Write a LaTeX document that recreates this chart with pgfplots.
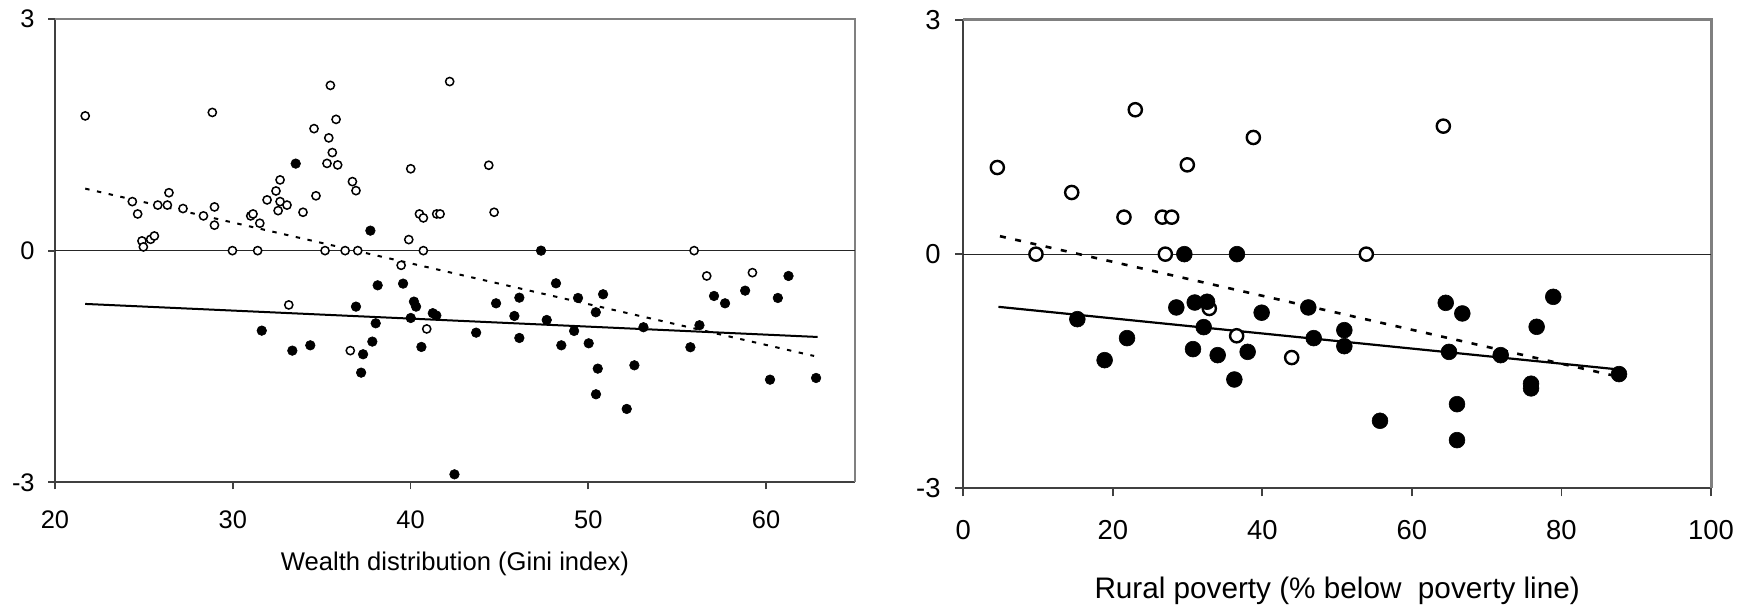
\documentclass[border=0pt]{standalone}
\usepackage{fontspec}
\setmainfont{Liberation Sans}
\usepackage{pgfplots}
\usepackage{pgfplotstable}
\pgfplotsset{compat=1.18}

% left panel: Gini index
\pgfplotstableread{
x y
21.7 1.745
28.85 1.79
24.35 0.635
24.65 0.475
24.89 0.126
24.97 0.048
25.38 0.147
25.59 0.19
25.78 0.59
26.32 0.59
26.41 0.75
27.2 0.545
28.35 0.45
28.97 0.566
28.97 0.33
29.98 0.0
31.01 0.45
31.14 0.475
31.52 0.355
31.4 0.0
31.93 0.657
32.43 0.773
32.66 0.916
32.66 0.635
32.55 0.518
33.05 0.59
33.15 -0.703
33.95 0.497
34.57 1.58
34.68 0.71
35.4 1.46
35.49 2.14
35.6 1.27
35.3 1.13
35.9 1.11
35.81 1.70
35.19 0.0
36.32 0.0
36.73 0.894
36.93 0.777
37.03 0.0
39.47 -0.19
39.9 0.143
40.01 1.06
40.5 0.475
40.72 0.424
40.72 0.0
41.47 0.475
41.66 0.475
42.2 2.19
44.4 1.106
44.7 0.497
55.95 0.0
56.66 -0.328
59.23 -0.285
36.61 -1.295
40.91 -1.014
}\giniopen

\pgfplotstableread{
x y
33.54 1.127
37.74 0.259
38.15 -0.449
39.58 -0.427
36.93 -0.725
40.19 -0.66
40.31 -0.725
41.25 -0.81
41.45 -0.84
40.01 -0.872
38.04 -0.941
37.85 -1.178
40.61 -1.247
37.33 -1.342
37.22 -1.58
34.36 -1.226
33.35 -1.295
31.63 -1.036
42.47 -2.897
43.69 -1.062
44.81 -0.682
45.84 -0.846
46.12 -0.609
46.12 -1.131
47.66 -0.898
48.18 -0.423
48.48 -1.226
49.2 -1.04
49.42 -0.613
50.02 -1.2
50.42 -0.798
50.43 -1.86
50.53 -1.528
50.83 -0.565
52.16 -2.05
52.59 -1.485
53.1 -0.992
55.74 -1.251
56.25 -0.966
57.07 -0.587
57.69 -0.682
58.82 -0.518
60.22 -1.671
60.66 -0.613
61.26 -0.328
62.81 -1.649
47.34 0.0
}\ginifilled

% right panel: rural poverty
\pgfplotstableread{
x y
4.55 1.11
9.72 0.0
14.5 0.79
21.49 0.474
23.0 1.85
26.62 0.474
27.87 0.474
27.02 0.0
29.96 1.144
38.79 1.495
32.9 -0.696
64.2 1.64
53.9 0.0
36.56 -1.046
43.92 -1.325
}\povopen

\pgfplotstableread{
x y
29.56 0
36.6 0
28.49 -0.683
30.95 -0.62
32.6 -0.61
39.9 -0.75
46.14 -0.683
15.25 -0.833
21.9 -1.076
18.9 -1.358
32.15 -0.935
30.72 -1.217
34.02 -1.294
38.03 -1.252
36.25 -1.606
46.86 -1.076
50.96 -0.974
50.96 -1.179
64.52 -0.624
66.74 -0.76
64.96 -1.252
55.73 -2.135
66.03 -1.922
66.03 -2.383
71.87 -1.294
76.68 -0.931
75.93 -1.66
75.93 -1.72
78.9 -0.547
87.7 -1.537
}\povfilled

\pgfplotsset{
  panel/.style={
    scale only axis,
    axis x line*=bottom,
    axis y line*=left,
    axis line style={-, draw=black!75, line width=0.9pt},
    tick align=outside,
    major tick length=3.5pt,
    tick style={draw=black!75, line width=0.9pt},
    ymin=-3, ymax=3,
    ytick={-3,0,3},
    yticklabels={-3,0,3},
    clip=false,
  },
}

\begin{document}
\begin{tikzpicture}
\useasboundingbox (0,0) rectangle (875.5pt,304pt);

\begin{axis}[panel,
  at={(27.5pt,62.85pt)}, anchor=south west,
  width=400pt, height=231.65pt,
  xmin=20, xmax=65,
  xtick={20,30,40,50,60},
  xticklabels={20,30,40,50,60},
  every tick label/.append style={font=\fontsize{12.7}{15}\selectfont},
  xticklabel style={anchor=base, inner sep=0pt, yshift=-19.5pt},
  yticklabel style={anchor=east, inner sep=0pt, xshift=-6.5pt},
  xlabel={Wealth distribution (Gini index)},
  xlabel style={font=\fontsize{12.8}{15}\selectfont, at={(axis description cs:0.5,0)}, anchor=base, yshift=-44.2pt},
]
\draw[gray, line width=1pt] (rel axis cs:0,1) -- (rel axis cs:1,1) -- (rel axis cs:1,0);
\addplot[black!85, line width=0.6pt] coordinates {(20,0) (65,0)};
\addplot[black, line width=1pt] coordinates {(21.7,-0.69) (62.9,-1.118)};
\addplot[black, line width=1pt, dash pattern=on 2.2pt off 3.8pt] coordinates {(21.7,0.803) (62.7,-1.364)};
\addplot[only marks, mark=*, mark size=2.05pt, mark options={draw=black, fill=white, line width=0.75pt}] table {\giniopen};
\addplot[only marks, mark=*, mark size=2.4pt, mark options={draw=black, fill=black, line width=0.3pt}] table {\ginifilled};
\end{axis}

\begin{axis}[panel,
  at={(481.65pt,59.85pt)}, anchor=south west,
  width=373.85pt, height=234.15pt,
  xmin=0, xmax=100,
  xtick={0,20,40,60,80,100},
  xticklabels={0,20,40,60,80,100},
  every tick label/.append style={font=\fontsize{13.7}{16}\selectfont},
  xticklabel style={anchor=base, inner sep=0pt, yshift=-21.85pt},
  yticklabel style={anchor=east, inner sep=0pt, xshift=-7.15pt},
  major tick length=4pt,
  xlabel={Rural poverty (\%{} below\ \ poverty line)},
  xlabel style={font=\fontsize{14.85}{18}\selectfont, at={(axis description cs:0.5,0)}, anchor=base, yshift=-55pt},
]
\draw[gray, line width=1.5pt] (rel axis cs:0,1) -- (rel axis cs:1,1) -- (rel axis cs:1,0);
\addplot[black!85, line width=0.6pt] coordinates {(0,0) (100,0)};
\addplot[black, line width=1.1pt] coordinates {(4.7,-0.675) (87.7,-1.478)};
\addplot[black, line width=1.3pt, dash pattern=on 3pt off 4.8pt] coordinates {(4.9,0.23) (86.7,-1.55)};
\addplot[only marks, mark=*, mark size=3.3pt, mark options={draw=black, fill=white, line width=1.2pt}] table {\povopen};
\addplot[only marks, mark=*, mark size=3.95pt, mark options={draw=black, fill=black, line width=0.3pt}] table {\povfilled};
\end{axis}
\end{tikzpicture}
\end{document}
